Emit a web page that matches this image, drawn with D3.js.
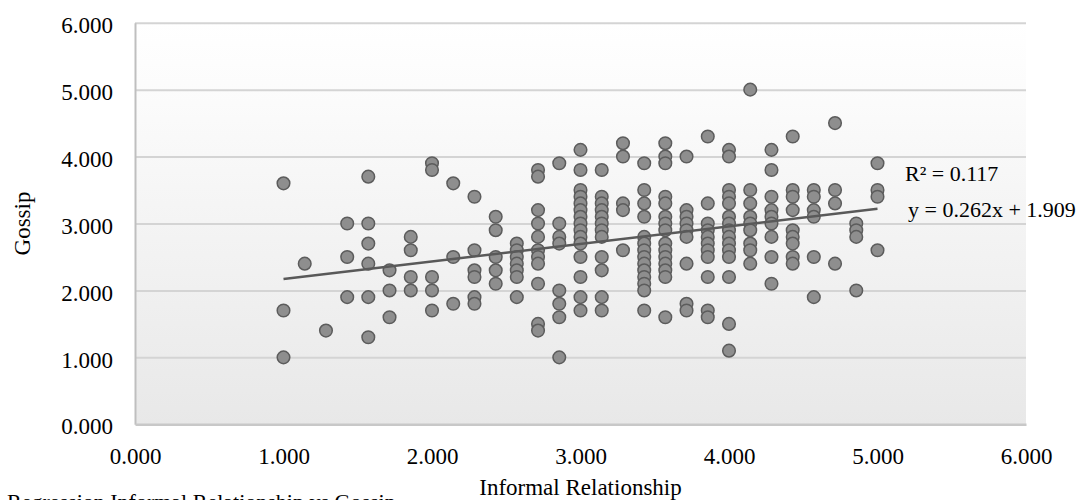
<!DOCTYPE html>
<html>

<head>
    <style>
        body { margin: 0; background: #fff; }
        text { font-family: "Liberation Serif", "Times New Roman", serif; fill: #000; }
    </style>
</head>

<body>
    <div class="graph"></div>

    <script src="https://d3js.org/d3.v7.min.js"></script>
    <script>
        var xTicks = ['0.000', '1.000', '2.000', '3.000', '4.000', '5.000', '6.000']
        var yTicks = ['0.000', '1.000', '2.000', '3.000', '4.000', '5.000', '6.000']

        // informal relationship scores (x) and the gossip scores seen at each one
        var informal = [1.000, 1.143, 1.286, 1.429, 1.571, 1.714, 1.857, 2.000, 2.143, 2.286,
            2.429, 2.571, 2.714, 2.857, 3.000, 3.143, 3.286, 3.429, 3.571, 3.714,
            3.857, 4.000, 4.143, 4.286, 4.429, 4.571, 4.714, 4.857, 5.000]

        var gossip = [
            [3.6, 1.7, 1.0],
            [2.4],
            [1.4],
            [3.0, 2.5, 1.9],
            [3.7, 3.0, 2.7, 2.4, 1.9, 1.3],
            [2.3, 2.0, 1.6],
            [2.8, 2.6, 2.2, 2.0],
            [3.9, 3.8, 2.2, 2.0, 1.7],
            [3.6, 2.5, 1.8],
            [3.4, 2.6, 2.3, 2.2, 1.9, 1.8],
            [3.1, 2.9, 2.5, 2.3, 2.1],
            [2.7, 2.6, 2.5, 2.4, 2.3, 2.2, 1.9],
            [3.8, 3.7, 3.2, 3.0, 2.8, 2.6, 2.5, 2.4, 2.1, 1.5, 1.4],
            [3.9, 3.0, 2.8, 2.7, 2.0, 1.8, 1.6, 1.0],
            [4.1, 3.8, 3.5, 3.4, 3.3, 3.2, 3.1, 3.0, 2.9, 2.8, 2.7, 2.5, 2.2, 1.9, 1.7],
            [3.8, 3.4, 3.3, 3.2, 3.1, 3.0, 2.9, 2.8, 2.5, 2.3, 1.9, 1.7],
            [4.2, 4.0, 3.3, 3.2, 2.6],
            [3.9, 3.5, 3.3, 3.1, 2.8, 2.7, 2.6, 2.5, 2.4, 2.3, 2.2, 2.1, 2.0, 1.7],
            [4.2, 4.0, 3.9, 3.4, 3.3, 3.1, 3.0, 2.9, 2.7, 2.6, 2.5, 2.4, 2.3, 2.2, 1.6],
            [4.0, 3.2, 3.1, 3.0, 2.9, 2.8, 2.4, 1.8, 1.7],
            [4.3, 3.3, 3.0, 2.9, 2.8, 2.7, 2.6, 2.5, 2.2, 1.7, 1.6],
            [4.1, 4.0, 3.5, 3.4, 3.3, 3.1, 3.0, 2.9, 2.8, 2.7, 2.6, 2.5, 2.2, 1.5, 1.1],
            [5.0, 3.5, 3.3, 3.1, 3.0, 2.9, 2.7, 2.6, 2.4],
            [4.1, 3.8, 3.4, 3.2, 3.1, 3.0, 2.8, 2.5, 2.1],
            [4.3, 3.5, 3.4, 3.2, 2.9, 2.8, 2.7, 2.5, 2.4],
            [3.5, 3.4, 3.2, 3.1, 2.5, 1.9],
            [4.5, 3.5, 3.3, 2.4],
            [3.0, 2.9, 2.8, 2.0],
            [3.9, 3.5, 3.4, 2.6]
        ]

        var slope = 0.262,
            intercept = 1.909,
            rSquared = 0.117,
            trendRange = [1.000, 5.000]

        var points = []
        informal.forEach(function (x, i) {
            gossip[i].forEach(function (y) {
                points.push({ x: x, y: y })
            })
        })

        var width = 1083,
            height = 500,
            plotLeft = 135,
            plotRight = 1026,
            plotTop = 22.7,
            plotBottom = 424.3

        var x = d3.scaleLinear()
            .domain([0, 6])
            .range([plotLeft, plotRight])

        var y = d3.scaleLinear()
            .domain([0, 6])
            .range([plotBottom, plotTop])

        var svg = d3.select('.graph').append('svg')
            .attr('width', width)
            .attr('height', height)

        var grad = svg.append('defs').append('linearGradient')
            .attr('id', 'bg')
            .attr('x1', 0).attr('y1', 0)
            .attr('x2', 0).attr('y2', 1)
        grad.append('stop').attr('offset', '0%').attr('stop-color', '#ffffff')
        grad.append('stop').attr('offset', '20%').attr('stop-color', '#fbfbfb')
        grad.append('stop').attr('offset', '100%').attr('stop-color', '#e8e8e8')

        svg.append('rect')
            .attr('x', plotLeft)
            .attr('y', plotTop)
            .attr('width', plotRight - plotLeft)
            .attr('height', plotBottom - plotTop)
            .style('fill', 'url(#bg)')

        // horizontal gridlines
        svg.append('g')
            .attr('transform', 'translate(' + plotLeft + ',0)')
            .call(d3.axisLeft(y).tickValues(yTicks.map(Number).slice(1)).tickSize(-(plotRight - plotLeft)).tickFormat(''))
            .call(function (g) {
                g.select('.domain').remove()
                g.selectAll('line').style('stroke', '#d4d4d4').style('stroke-width', 2)
            })

        var y_axis = svg.append('g')
            .attr('transform', 'translate(' + plotLeft + ',0)')
            .call(d3.axisLeft(y).tickValues(yTicks.map(Number)).tickSize(0).tickPadding(22)
                .tickFormat(function (d, i) { return yTicks[i] }))
        y_axis.select('.domain').style('stroke', '#bfbfbf').style('stroke-width', 2)
        y_axis.selectAll('text')
            .attr('font-family', null)
            .style('font-size', '23px')
            .attr('dy', '0.42em')

        var x_axis = svg.append('g')
            .attr('transform', 'translate(0,' + plotBottom + ')')
            .call(d3.axisBottom(x).tickValues(xTicks.map(Number)).tickSize(0).tickPadding(23)
                .tickFormat(function (d, i) { return xTicks[i] }))
        x_axis.select('.domain').style('stroke', '#c8c8c8').style('stroke-width', 2.5)
        x_axis.selectAll('text')
            .attr('font-family', null)
            .style('font-size', '23px')

        // trendline
        var line = d3.line()
            .x(function (d) { return x(d) })
            .y(function (d) { return y(slope * d + intercept) })

        svg.append('g').selectAll('circle')
            .data(points)
            .enter().append('circle')
            .attr('cx', function (d) { return x(d.x) })
            .attr('cy', function (d) { return y(d.y) })
            .attr('r', 6.3)
            .style('fill', '#8e8e8e')
            .style('stroke', '#5c5c5c')
            .style('stroke-width', 1.5)

        svg.append('path')
            .datum(trendRange)
            .attr('d', line)
            .style('fill', 'none')
            .style('stroke', '#595959')
            .style('stroke-width', 2.5)

        svg.append('text')
            .attr('x', 905)
            .attr('y', 181)
            .style('font-size', '22px')
            .text('R² = ' + rSquared.toFixed(3))

        svg.append('text')
            .attr('x', 908)
            .attr('y', 217)
            .style('font-size', '22px')
            .text('y = ' + slope.toFixed(3) + 'x + ' + intercept.toFixed(3))

        svg.append('text')
            .attr('x', (plotLeft + plotRight) / 2)
            .attr('y', 495)
            .attr('text-anchor', 'middle')
            .style('font-size', '23px')
            .text('Informal Relationship')

        svg.append('text')
            .attr('transform', 'translate(30,' + (plotTop + plotBottom) / 2 + ') rotate(-90)')
            .attr('text-anchor', 'middle')
            .style('font-size', '23px')
            .text('Gossip')

        svg.append('text')
            .attr('x', 7)
            .attr('y', 509)
            .style('font-size', '22px')
            .text('Regression Informal Relationship vs Gossip')
    </script>
</body>

</html>
